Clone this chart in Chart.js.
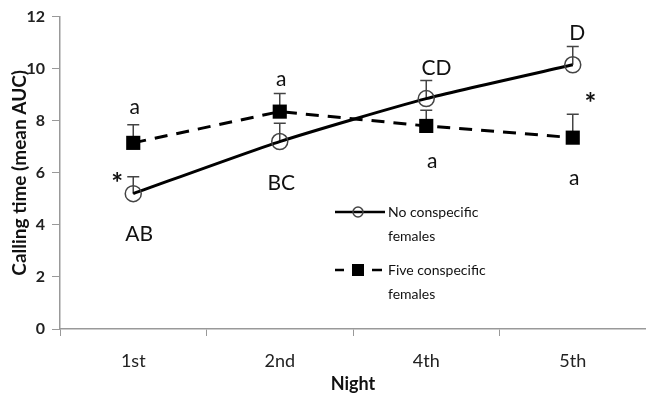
<!DOCTYPE html>
<html>
<head>
<meta charset="utf-8">
<script src="https://cdn.jsdelivr.net/npm/chart.js@4.4.0/dist/chart.umd.min.js"></script>
<style>
  html, body { margin: 0; padding: 0; background: #fff; }
  #wrap { width: 646px; height: 401px; }
</style>
</head>
<body>
<div id="wrap"><canvas id="myChart" width="646" height="401"></canvas></div>
<script>
// data
const nights = ['1st', '2nd', '4th', '5th'];
const noFemales = [5.2, 7.2, 8.85, 10.15];
const noFemalesErr = [0.65, 0.7, 0.7, 0.7];
const fiveFemales = [7.15, 8.35, 7.8, 7.35];
const fiveFemalesErr = [0.7, 0.7, 0.6, 0.9];
const yTicks = [0, 2, 4, 6, 8, 10, 12];

// significance letters: text, x (category index), y (data value)
const annotText = ['a', 'a', 'a', 'a', 'AB', 'BC', 'CD', 'D', '*', '*'];
const annotX = [0.01, 1.01, 2.04, 3.01, 0.04, 1.01, 2.07, 3.03, -0.11, 3.12];
const annotY = [8.5, 9.6, 6.45, 5.8, 3.65, 5.6, 10.0, 11.35, 5.75, 8.85];

const FONT = 'Lato, "Open Sans", sans-serif';

const errorBars = {
  id: 'errorBars',
  beforeDatasetsDraw(chart) {
    const { ctx, scales: { x, y } } = chart;
    const sets = [[noFemales, noFemalesErr], [fiveFemales, fiveFemalesErr]];
    ctx.save();
    ctx.strokeStyle = '#444';
    ctx.lineWidth = 1.5;
    sets.forEach(([vals, errs]) => {
      vals.forEach((v, i) => {
        const px = x.getPixelForValue(i);
        const y0 = y.getPixelForValue(v);
        const y1 = y.getPixelForValue(v + errs[i]);
        ctx.beginPath();
        ctx.moveTo(px, y0);
        ctx.lineTo(px, y1);
        ctx.moveTo(px - 6, y1);
        ctx.lineTo(px + 6, y1);
        ctx.stroke();
      });
    });
    ctx.restore();
  }
};

const annotations = {
  id: 'annotations',
  afterDatasetsDraw(chart) {
    const { ctx, scales: { x, y } } = chart;
    ctx.save();
    ctx.fillStyle = '#111';
    ctx.textAlign = 'center';
    ctx.textBaseline = 'middle';
    annotText.forEach((t, i) => {
      const star = t === '*';
      ctx.font = (star ? 'bold 28px ' : '21px ') + FONT;
      ctx.fillText(t, x.getPixelForValue(annotX[i]), y.getPixelForValue(annotY[i]) + (star ? 5 : 0));
    });
    ctx.restore();
  }
};

const customLegend = {
  id: 'customLegend',
  afterDraw(chart) {
    const { ctx } = chart;
    const rows = [
      { ds: chart.data.datasets[0], y: 212, lines: ['No conspecific', 'females'] },
      { ds: chart.data.datasets[1], y: 270, lines: ['Five conspecific', 'females'] }
    ];
    ctx.save();
    rows.forEach(r => {
      ctx.strokeStyle = '#000';
      ctx.lineWidth = 2.5;
      ctx.beginPath();
      if (r.ds.borderDash) {
        ctx.moveTo(335, r.y); ctx.lineTo(344, r.y);
        ctx.moveTo(372, r.y); ctx.lineTo(382, r.y);
      } else {
        ctx.moveTo(335, r.y); ctx.lineTo(385, r.y);
      }
      ctx.stroke();
      if (r.ds.pointStyle === 'circle') {
        ctx.beginPath();
        ctx.arc(358, r.y, 5, 0, Math.PI * 2);
        ctx.lineWidth = 1.5;
        ctx.strokeStyle = '#444';
        ctx.stroke();
      } else {
        ctx.fillStyle = '#000';
        ctx.fillRect(352, r.y - 6, 12, 12);
      }
      ctx.fillStyle = '#111';
      ctx.font = '14px ' + FONT;
      ctx.textAlign = 'left';
      ctx.textBaseline = 'middle';
      ctx.fillText(r.lines[0], 388, r.y);
      ctx.fillText(r.lines[1], 388, r.y + 24);
    });
    ctx.restore();
  }
};

new Chart(document.getElementById('myChart'), {
  type: 'line',
  data: {
    labels: nights,
    datasets: [
      {
        label: 'No conspecific females',
        data: noFemales,
        borderColor: '#000',
        borderWidth: 3,
        tension: 0.2,
        pointStyle: 'circle',
        pointRadius: 8,
        pointBorderWidth: 1.5,
        pointBorderColor: '#444',
        pointBackgroundColor: 'rgba(255,255,255,0)'
      },
      {
        label: 'Five conspecific females',
        data: fiveFemales,
        borderColor: '#000',
        borderWidth: 3,
        borderDash: [13, 9],
        tension: 0,
        pointStyle: 'rect',
        pointRadius: 10,
        pointBorderWidth: 0,
        pointBackgroundColor: '#000'
      }
    ]
  },
  plugins: [errorBars, annotations, customLegend],
  options: {
    responsive: false,
    animation: false,
    clip: false,
    layout: { autoPadding: false, padding: { top: 15, right: -2, left: 0, bottom: 0 } },
    plugins: { legend: { display: false }, tooltip: { enabled: false } },
    scales: {
      x: {
        offset: true,
        grid: { offset: true, drawOnChartArea: false, tickLength: 7, color: '#999' },
        border: { color: '#999', width: 1.5 },
        ticks: { color: '#222', font: { family: FONT, size: 18 }, padding: 14 },
        title: { display: true, text: 'Night', color: '#111', font: { family: FONT, size: 18, weight: 'bold' }, padding: { top: 0, bottom: 6 } },
        afterFit(s) { s.height = 72; }
      },
      y: {
        min: 0,
        max: 12,
        afterBuildTicks(s) { s.ticks = yTicks.map(v => ({ value: v })); },
        grid: { drawOnChartArea: false, tickLength: 8, color: '#999' },
        border: { color: '#999', width: 1.5 },
        ticks: { color: '#222', font: { family: FONT, size: 16, weight: 'bold' }, padding: 7 },
        title: { display: true, text: 'Calling time (mean AUC)', color: '#111', font: { family: FONT, size: 19, weight: 'bold' }, padding: { top: 8, bottom: 0 } },
        afterFit(s) { s.width = 60; }
      }
    }
  }
});
</script>
</body>
</html>
